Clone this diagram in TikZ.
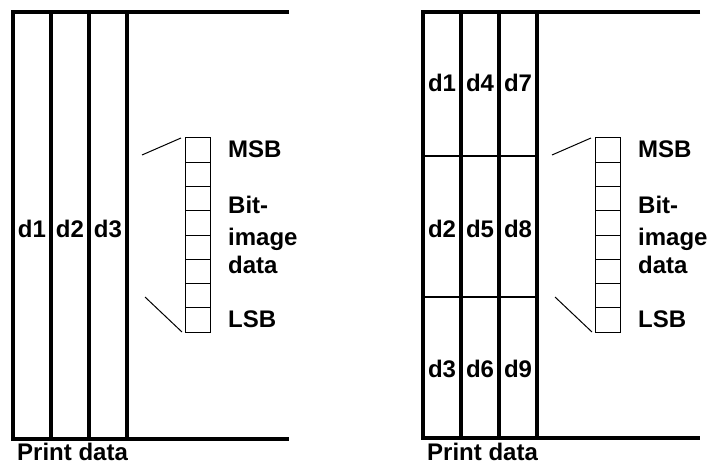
\documentclass[tikz,border=0pt]{standalone}
\usepackage{fontspec}
\setmainfont{Liberation Sans}[BoldFont={Liberation Sans Bold}]
\usepackage{tikz}

\begin{document}
\begin{tikzpicture}[x=1pt,y=-1pt,
    frame/.style={line width=3.2pt,line cap=rect},
    hair/.style={line width=1pt},
    bitbox/.style={draw,hair,minimum width=25pt,minimum height=24.25pt,inner sep=0pt,outer sep=0pt},
    lbl/.style={font=\bfseries\fontsize{24}{24}\selectfont,inner sep=0pt}]
    \useasboundingbox (0,0) rectangle (707,468);
    % one column of bits: b1 (MSB) down to b8 (LSB)
    \newcommand\bitcolumn[1]{%
        \foreach \i in {1,...,8}
            \node[bitbox] (#1\i) at (197.5,{138+24.25*(\i-0.5)}) {};
        \coordinate (#1up) at (142,155);
        \coordinate (#1lo) at (145,297);
        \draw[hair] (#1up) -- ([shift={(-4,0)}]#11.north west);
        \draw[hair] (#1lo) -- ([shift={(-3,0)}]#18.south west);
        \node[lbl,anchor=base west] (#1msb) at (228,158) {MSB};
        \node[lbl,anchor=base west] (#1bit) at (228,213) {Bit-};
        \node[lbl,anchor=base west] (#1img) at (228,245) {image};
        \node[lbl,anchor=base west] (#1dat) at (228,273) {data};
        \node[lbl,anchor=base west] (#1lsb) at (228,327) {LSB};
        \node[lbl,anchor=base west] (#1prt) at (17,460) {Print data};
    }
    \begin{scope}[shift={(0,0)}]
        \foreach \i/\x in {0/13,1/51,2/89,3/127}
            \coordinate (lt\i) at (\x,12);
        \foreach \i/\x in {0/13,1/51,2/89,3/127}
            \coordinate (lb\i) at (\x,439);
        \coordinate (ltr) at (289,12);
        \coordinate (lbr) at (289,439);
        \draw[frame,line cap=butt] (ltr) -- (lt0) -- (lb0) -- (lbr);
        \foreach \i in {1,...,3}
            \draw[frame,line cap=butt] (lt\i) -- (lb\i);
        \foreach \i/\x in {1/32,2/70,3/108}
            \node[lbl,anchor=base] (ld\i) at (\x,237) {d\i};
        \bitcolumn{lbit}
    \end{scope}
    \begin{scope}[shift={(410,0)}]
        \foreach \i/\x in {0/13,1/51,2/89,3/127}
            \coordinate (rt\i) at (\x,12);
        \foreach \i/\x in {0/13,1/51,2/89,3/127}
            \coordinate (rb\i) at (\x,438);
        \coordinate (rtr) at (290,12);
        \coordinate (rbr) at (290,438);
        \coordinate (rh1a) at (13,156);
        \coordinate (rh1b) at (127,156);
        \coordinate (rh2a) at (13,297);
        \coordinate (rh2b) at (127,297);
        \draw[line width=1.5pt] (rh1a) -- (rh1b);
        \draw[line width=1.5pt] (rh2a) -- (rh2b);
        \draw[frame,line cap=butt] (rtr) -- (rt0) -- (rb0) -- (rbr);
        \foreach \i in {1,...,3}
            \draw[frame,line cap=butt] (rt\i) -- (rb\i);
        \foreach \n/\x/\y in {1/32/92,4/70/92,7/108/92,2/32/237,5/70/237,8/108/237,3/32/377,6/70/377,9/108/377}
            \node[lbl,anchor=base] (rd\n) at (\x,\y) {d\n};
        \bitcolumn{rbit}
    \end{scope}
\end{tikzpicture}
\end{document}
